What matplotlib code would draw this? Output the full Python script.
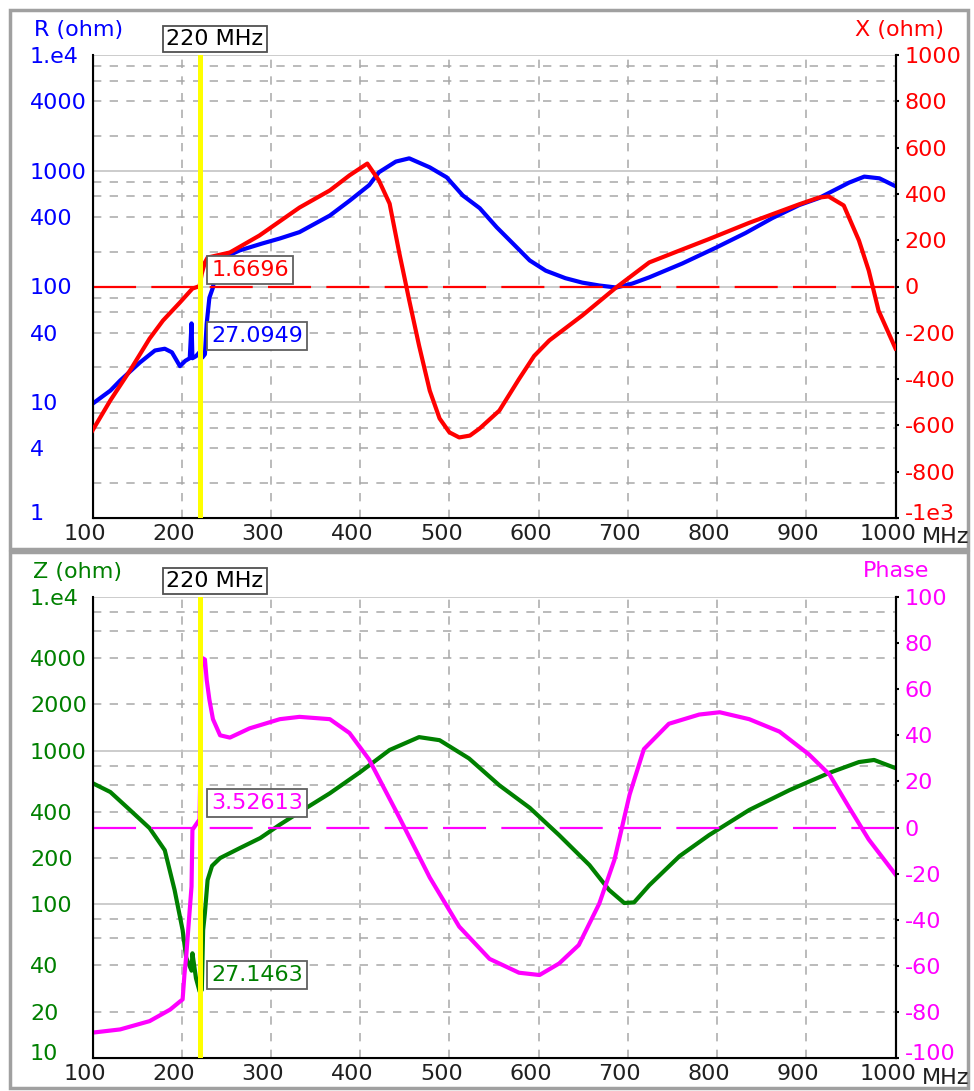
import matplotlib
matplotlib.use('Agg')
import math
import matplotlib.pyplot as plt
from matplotlib.ticker import FixedLocator, FuncFormatter, MultipleLocator
from matplotlib.patches import Rectangle
from matplotlib.transforms import ScaledTranslation

# sweep data, top panel: resistance (log) and reactance
freq_r = [100, 120, 131, 153, 170, 181, 189, 198, 204, 209, 211, 212, 216, 220, 223, 226,
          228, 231, 235, 238, 245, 265, 290, 310, 332, 366, 388, 410, 421, 440, 455, 478,
          497, 515, 534, 553, 571, 590, 608, 630, 649, 668, 687, 705, 724, 761, 799, 832,
          862, 892, 914, 948, 965, 982, 1000]
r_ohm = [9.7, 12.6, 15.4, 22, 28, 29, 27, 20.5, 22.8, 24, 48, 24, 25, 27.0949, 24.3, 26,
         48, 80, 98, 150, 175, 205, 235, 260, 295, 410, 550, 750, 970, 1200, 1280, 1070,
         877, 612, 475, 325, 236, 168, 137, 118, 108, 102, 98, 106, 120, 158, 217, 290,
         390, 505, 580, 790, 890, 860, 735]

freq_x = [100, 120, 142, 164, 179, 198, 212, 220, 222.5, 226, 229, 254, 287, 332, 366, 388,
          408, 421, 433, 444, 448, 455, 466, 478, 489, 500, 511, 523, 534, 556, 578, 595,
          612, 649, 687, 724, 761, 791, 836, 892, 914, 925, 942, 959, 970, 981, 1000]
x_ohm = [-622, -492, -363, -225, -147, -69, -9, 1.6696, 56, 104, 125, 147, 220, 341, 415, 480,
         531, 458, 358, 142, 69, -60, -255, -450, -570, -630, -652, -644, -613, -536, -400, -300,
         -233, -125, -4, 104, 160, 205, 275, 355, 384, 389, 350, 199, 69, -104, -268]

# bottom panel: impedance magnitude (log) and phase
freq_z = [100, 120, 142, 164, 181, 192, 201, 205, 211, 212, 216, 220, 222.5, 224, 226, 229,
          234, 243, 265, 288, 310, 332, 366, 400, 433, 466, 489, 522, 556, 590, 623, 657,
          679, 696, 707, 724, 758, 791, 836, 881, 925, 959, 976, 1000]
z_ohm = [615, 538, 411, 313, 225, 124, 68, 45, 37, 48, 33, 27.1463, 27.7, 68, 88, 144,
         178, 200, 232, 270, 330, 398, 528, 725, 1010, 1225, 1170, 890, 595, 425, 282, 180,
         124, 102, 103, 133, 206, 282, 411, 553, 714, 843, 870, 770]

freq_p = [100, 131, 164, 187, 198, 201, 203, 205, 209, 211, 212, 220, 221, 222, 226, 228,
          231, 235, 243, 254, 276, 310, 332, 366, 388, 410, 444, 478, 511, 545, 578, 601,
          623, 645, 668, 685, 702, 718, 746, 780, 803, 836, 870, 903, 926, 948, 970, 1000]
phase = [-89, -87.6, -84, -79, -75.5, -74.6, -64, -56, -35.6, -25.6, -1, 3.52613, 29.5, 73.7,
         72.9, 64, 55.5, 47, 40, 39, 43, 47, 48, 47, 41, 29.5, 4.3, -21.7, -43, -57, -63, -64,
         -59, -51, -33, -14, 14.3, 34, 45, 49, 50, 47, 41.6, 31.7, 23, 8.7, -5.2, -20.4]

marker_mhz = 220
freq_ticks = list(range(100, 1001, 100))

W, H = 974, 1091
fig = plt.figure(figsize=(W / 100, H / 100), dpi=100)
plt.rcParams['lines.scale_dashes'] = False

FS = 16
GRID = '#a8a8a8'


def px_box(x0, y0, x1, y1):
    return [x0 / W, 1 - y1 / H, (x1 - x0) / W, (y1 - y0) / H]


def decade_fmt(show):
    def f(v, pos):
        m = int(round(v / 10 ** math.floor(math.log10(v) + 1e-9)))
        if v >= 9999:
            return '1.e4'
        if m == 1 or m in show:
            return '%d' % round(v)
        return ''
    return f


def setup_panel(rect, ylo, yhi, lcolor, show_minor, rlo, rhi, rstep, rcolor, rfmt):
    ax = fig.add_axes(rect)
    ax.set_yscale('log')
    ax.set_xlim(100, 1000)
    ax.set_ylim(ylo, yhi)
    decades = [10 ** k for k in range(0, 5) if ylo <= 10 ** k <= yhi]
    minors = [m * d for d in decades[:-1] for m in (2, 4, 6, 8)]
    ax.yaxis.set_major_locator(FixedLocator(decades))
    ax.yaxis.set_minor_locator(FixedLocator(minors))
    fmt = FuncFormatter(decade_fmt(show_minor))
    ax.yaxis.set_major_formatter(fmt)
    ax.yaxis.set_minor_formatter(fmt)
    ax.xaxis.set_major_locator(FixedLocator(freq_ticks))
    ax.xaxis.set_major_formatter(FuncFormatter(lambda v, p: '%d' % v))
    ax.tick_params(axis='y', which='both', length=0, pad=45, labelcolor=lcolor, labelsize=FS)
    ax.tick_params(axis='x', length=0, pad=4.5, labelsize=FS, labelcolor='#202020')
    ax.grid(True, which='major', axis='y', color='#c4c4c4', lw=1.2, ls='-')
    ax.grid(True, which='minor', axis='y', color=GRID, lw=1.1, ls=(0, (6, 6)))
    ax.grid(True, which='major', axis='x', color=GRID, lw=1.1, ls=(0, (6, 6)))
    ax.spines['top'].set_visible(False)
    for s in ('left', 'bottom', 'right'):
        ax.spines[s].set_linewidth(1.5)
        ax.spines[s].set_color('black')

    ax2 = ax.twinx()
    ax2.set_ylim(rlo, rhi)
    ax2.yaxis.set_major_locator(MultipleLocator(rstep))
    ax2.yaxis.set_major_formatter(FuncFormatter(rfmt))
    ax2.tick_params(axis='y', length=2.5, width=1.5, pad=4, labelcolor=rcolor, labelsize=FS)
    ax2.spines['top'].set_visible(False)
    ax2.spines['right'].set_linewidth(1.5)
    return ax, ax2


def marker(ax2):
    ax2.axvline(marker_mhz, color='#ffff00', lw=3.6, zorder=10)
    ax2.annotate('%d MHz' % marker_mhz, xy=(marker_mhz, 1), xycoords=('data', 'axes fraction'),
                 xytext=(11, 11.5), textcoords='offset points', ha='center', va='center',
                 fontsize=FS, color='black', annotation_clip=False, zorder=12,
                 bbox=dict(boxstyle='square,pad=0.15', fc='white', ec='#505050', lw=1.3))


def value_box(ax, y, text, color):
    ax.annotate(text, xy=(marker_mhz, y), xytext=(8.5, 4.5), textcoords='offset points',
                ha='left', va='bottom', fontsize=FS, color=color, zorder=11,
                bbox=dict(boxstyle='square,pad=0.18', fc='white', ec='#606060', lw=1.3))


def r_label(v, p):
    return '-1e3' if v <= -1000 else '%d' % v


def p_label(v, p):
    return '%d' % v


# top panel: R and X
ax_r, ax_x = setup_panel(px_box(92.5, 55, 895.5, 518), 1, 1e4, 'blue', (4,),
                         -1000, 1000, 200, 'red', r_label)
ax_x.axhline(0, color='#ff0000', lw=1.6, ls=(0, (31, 11)), zorder=1)
ax_r.plot(freq_r, r_ohm, color='#0000ff', lw=3.0, zorder=3)
ax_x.plot(freq_x, x_ohm, color='#ff0000', lw=3.0, zorder=3)
marker(ax_x)
value_box(ax_x, 1.6696, '1.6696', 'red')
value_box(ax_r, 27.0949, '27.0949', 'blue')

# bottom panel: |Z| and phase
ax_z, ax_p = setup_panel(px_box(92.5, 597, 895.5, 1058), 10, 1e4, '#008000', (2, 4),
                         -100, 100, 20, '#ff00ff', p_label)
ax_p.axhline(0, color='#ff00ff', lw=1.6, ls=(0, (31, 11)), zorder=1)
ax_z.plot(freq_z, z_ohm, color='#008000', lw=3.0, zorder=3)
ax_p.plot(freq_p, phase, color='#ff00ff', lw=3.0, zorder=2)
marker(ax_p)
value_box(ax_p, 3.52613, '3.52613', '#ff00ff')
value_box(ax_z, 27.1463, '27.1463', '#008000')

# axis titles
fig.text(34 / W, 1 - 30 / H, 'R (ohm)', color='blue', fontsize=FS, ha='left', va='center')
fig.text(944 / W, 1 - 30 / H, 'X (ohm)', color='red', fontsize=FS, ha='right', va='center')
fig.text(33 / W, 1 - 572 / H, 'Z (ohm)', color='#008000', fontsize=FS, ha='left', va='center')
fig.text(929 / W, 1 - 571 / H, 'Phase', color='#ff00ff', fontsize=FS, ha='right', va='center')
fig.text(922 / W, 1 - 537 / H, 'MHz', color='#202020', fontsize=FS, ha='left', va='center')
fig.text(922 / W, 1 - 1078 / H, 'MHz', color='#202020', fontsize=FS, ha='left', va='center')

# panel frames
for y0, y1 in ((10, 549), (552, 1088)):
    fig.add_artist(Rectangle((10 / W, 1 - y1 / H), 958 / W, (y1 - y0) / H,
                             transform=fig.transFigure, fill=False, ec='#a0a0a0', lw=2.5))

fig.canvas.draw()
shift = ScaledTranslation(-8 / 100, 0, fig.dpi_scale_trans)
lift = ScaledTranslation(0, 6 / 100, fig.dpi_scale_trans)
for ax in (ax_r, ax_z):
    for lbl in ax.get_yticklabels(which='both'):
        lbl.set_horizontalalignment('left')
    for lbl in ax.get_xticklabels():
        lbl.set_transform(lbl.get_transform() + shift)
# nudge the lowest y labels up off the frequency row
for ax in (ax_r, ax_z, ax_x, ax_p):
    ymin = ax.get_ylim()[0]
    for lbl in ax.get_yticklabels():
        if abs(lbl.get_position()[1] - ymin) < 1e-6 * max(1, abs(ymin)):
            lbl.set_transform(lbl.get_transform() + lift)

fig.savefig('out.png', dpi=100, facecolor='white')
